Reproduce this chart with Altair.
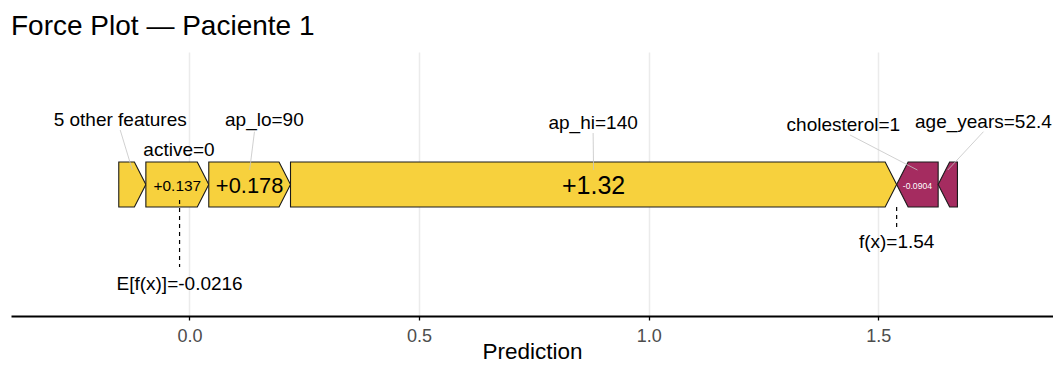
import altair as alt
import pandas as pd

# ---------------- data ----------------
features = ["5 other features", "active=0", "ap_lo=90", "ap_hi=140", "cholesterol=1", "age_years=52.4"]
shap_values = [0.059, 0.137, 0.178, 1.32, -0.0904, -0.042]
value_labels = ["", "+0.137", "+0.178", "+1.32", "-0.0904", ""]
baseline_value = -0.0216
baseline_label = "E[f(x)]=-0.0216"
prediction_label = "f(x)=1.54"
axis_ticks = [0.0, 0.5, 1.0, 1.5]
chart_title = "Force Plot — Paciente 1"

# ---------------- layout / style ----------------
POS_COLOR = "#f7d13d"
NEG_COLOR = "#a52c60"
HEAD = 0.025          # arrow head width (x units)
HALF = 0.5            # half bar thickness (y units)
X_DOMAIN = [-0.3887, 1.8805]
Y_DOMAIN = [-2.922, 2.944]
FONT = "Liberation Sans"
# repelled label positions (x, baseline y) and leader start points
label_pos = {
    "5 other features": (-0.1509, 1.30, -0.1509, 1.211),
    "active=0": (-0.0229, 0.633, None, None),
    "ap_lo=90": (0.1631, 1.30, 0.1415, 1.173),
    "ap_hi=140": (0.879, 1.227, 0.879, 1.144),
    "cholesterol=1": (1.4239, 1.196, 1.4385, 1.10),
    "age_years=52.4": (1.7290, 1.262, 1.7290, 1.173),
}
value_font = {"+0.137": 15.4, "+0.178": 21.9, "+1.32": 25, "-0.0904": 8.6}
LEADER_END_Y = 0.322

# ---------------- geometry from data ----------------
fx = baseline_value + sum(shap_values)
pos = [(f, v) for f, v in zip(features, shap_values) if v > 0]
neg = [(f, v) for f, v in zip(features, shap_values) if v < 0]

poly_rows, bars = [], []
start = fx - sum(v for _, v in pos)
for f, v in pos:
    s, e = start, start + v
    h = min(HEAD, v)
    poly_rows += [
        dict(feature=f, sign="pos", x=s, lo=-HALF, hi=HALF),
        dict(feature=f, sign="pos", x=e - h, lo=-HALF, hi=HALF),
        dict(feature=f, sign="pos", x=e, lo=0.0, hi=0.0),
    ]
    bars.append(dict(feature=f, sign="pos", mid=(s + e) / 2))
    start = e
start = fx
for f, v in neg:
    s, e = start, start - v
    h = min(HEAD, -v)
    poly_rows += [
        dict(feature=f, sign="neg", x=s, lo=0.0, hi=0.0),
        dict(feature=f, sign="neg", x=s + h, lo=-HALF, hi=HALF),
        dict(feature=f, sign="neg", x=e, lo=-HALF, hi=HALF),
    ]
    bars.append(dict(feature=f, sign="neg", mid=(s + e) / 2))
    start = e

poly_df = pd.DataFrame(poly_rows)
bar_df = pd.DataFrame(bars)
bar_df["value_label"] = [value_labels[features.index(f)] for f in bar_df["feature"]]
bar_df["fsize"] = [value_font.get(l, 0) for l in bar_df["value_label"]]
bar_df["tcolor"] = ["white" if s == "neg" else "black" for s in bar_df["sign"]]
val_df = bar_df[bar_df["value_label"] != ""]

lab_df = pd.DataFrame([
    dict(feature=f, lx=label_pos[f][0], ly=label_pos[f][1],
         sx=label_pos[f][2], sy=label_pos[f][3],
         mid=float(bar_df.loc[bar_df.feature == f, "mid"].iloc[0]), ey=LEADER_END_Y)
    for f in features
])
lead_df = lab_df.dropna()

ref_df = pd.DataFrame([
    dict(x=baseline_value, y1=-0.344, y2=-1.833, ty=-2.344, label=baseline_label),
    dict(x=fx, y1=-0.5, y2=-0.944, ty=-1.418, label=prediction_label),
])

xscale = alt.Scale(domain=X_DOMAIN, nice=False, zero=False)
yscale = alt.Scale(domain=Y_DOMAIN, nice=False, zero=False)
xaxis = alt.Axis(values=axis_ticks, format=".1f", title="Prediction",
                 titleBaseline="alphabetic", titleY=42)

polys = alt.Chart(poly_df).mark_area(orient="vertical", stroke="#1a1a1a", strokeWidth=1.1,
                                     strokeJoin="miter", opacity=1).encode(
    x=alt.X("x:Q", scale=xscale, axis=xaxis),
    y=alt.Y("lo:Q", scale=yscale, axis=None, stack=False),
    y2="hi:Q",
    detail="feature:N",
    color=alt.Color("sign:N", scale=alt.Scale(domain=["pos", "neg"], range=[POS_COLOR, NEG_COLOR]), legend=None),
)

leaders = alt.Chart(lead_df).mark_rule(color="#c4c4c4", strokeWidth=0.8).encode(
    x="sx:Q", x2="mid:Q", y="sy:Q", y2="ey:Q")

dashes = alt.Chart(ref_df).mark_rule(color="black", strokeWidth=1.2, strokeDash=[4, 4]).encode(
    x="x:Q", y="y1:Q", y2="y2:Q")

ref_text = alt.Chart(ref_df).mark_text(font=FONT, fontSize=19, color="black",
                                       baseline="alphabetic", align="center").encode(
    x="x:Q", y="ty:Q", text="label:N")

feat_text = alt.Chart(lab_df).mark_text(font=FONT, fontSize=19, color="black",
                                        baseline="alphabetic", align="center").encode(
    x="lx:Q", y="ly:Q", text="feature:N")

val_text = alt.Chart(val_df).mark_text(font=FONT, baseline="middle", align="center", dy=1).encode(
    x="mid:Q", y=alt.value(132.5), text="value_label:N",
    size=alt.Size("fsize:Q", scale=None, legend=None),
    color=alt.Color("tcolor:N", scale=None, legend=None),
)

title_text = alt.Chart(pd.DataFrame({"t": [chart_title]})).mark_text(
    font=FONT, fontSize=28, color="black", align="left", baseline="alphabetic").encode(
    x=alt.value(0), y=alt.value(-17), text="t:N")

chart = alt.layer(polys, leaders, dashes, ref_text, feat_text, val_text, title_text).properties(
    width=1042, height=264,
    padding={"left": 3, "top": 44, "right": 0, "bottom": 46},
    autosize=alt.AutoSizeParams(type="none"),
    background="white",
).configure_view(stroke=None).configure_axis(
    domainColor="black", domainWidth=2, tickColor="black", tickWidth=1.3, tickSize=4,
    labelColor="#4d4d4d", labelFontSize=18, labelFont=FONT, labelPadding=7.7,
    titleFont=FONT, titleFontSize=22.5, titleFontWeight="normal", titleColor="black",
    gridColor="#ebebeb", gridWidth=1.5,
)

chart.save("out.html", embed_options={"renderer": "svg", "actions": False})
